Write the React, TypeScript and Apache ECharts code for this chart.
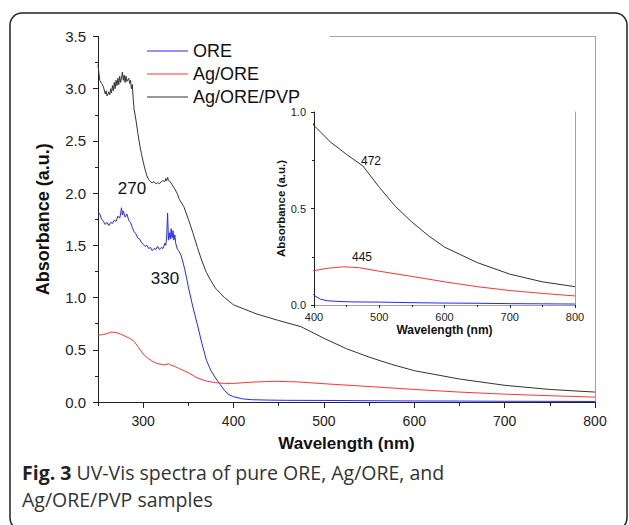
import React, { useEffect, useRef } from "react";
import * as echarts from "echarts";

// ---- data ----
const oreWl = [250, 252, 254, 256, 258, 260, 262, 264, 266, 268, 270, 272, 274, 275, 276, 277, 278, 280, 282, 284, 286, 288, 290, 292, 294, 296, 298, 300, 302, 304, 306, 308, 310, 312, 314, 316, 318, 320, 322, 324, 325, 326, 327, 328, 329, 330, 331, 332, 333, 334, 335, 336, 338, 340, 342, 344, 346, 348, 350, 355, 360, 365, 370, 375, 380, 385, 390, 395, 400, 410, 420, 440, 460, 500, 550, 600, 650, 700, 750, 800];
const oreAbs = [1.82, 1.8, 1.75, 1.73, 1.7, 1.72, 1.69, 1.72, 1.71, 1.74, 1.73, 1.78, 1.76, 1.8, 1.86, 1.79, 1.83, 1.77, 1.8, 1.74, 1.72, 1.67, 1.63, 1.61, 1.57, 1.56, 1.53, 1.51, 1.49, 1.5, 1.47, 1.48, 1.45, 1.47, 1.46, 1.49, 1.46, 1.48, 1.47, 1.52, 1.5, 1.58, 1.81, 1.55, 1.62, 1.56, 1.66, 1.57, 1.64, 1.55, 1.6, 1.52, 1.46, 1.44, 1.4, 1.34, 1.27, 1.19, 1.1, 0.91, 0.74, 0.56, 0.4, 0.3, 0.23, 0.17, 0.11, 0.07, 0.05, 0.03, 0.022, 0.018, 0.016, 0.015, 0.012, 0.01, 0.009, 0.007, 0.006, 0.005];

const agWl = [250, 255, 260, 265, 270, 275, 280, 285, 290, 295, 300, 305, 310, 315, 320, 325, 328, 330, 335, 340, 345, 350, 360, 370, 380, 390, 400, 420, 445, 470, 500, 550, 600, 650, 700, 750, 800];
const agAbs = [0.64, 0.645, 0.655, 0.67, 0.665, 0.65, 0.63, 0.61, 0.58, 0.52, 0.46, 0.42, 0.39, 0.37, 0.36, 0.355, 0.368, 0.355, 0.34, 0.32, 0.3, 0.28, 0.23, 0.2, 0.185, 0.178, 0.178, 0.19, 0.198, 0.193, 0.175, 0.148, 0.12, 0.095, 0.075, 0.06, 0.047];

const pvpWl = [250, 251, 252, 254, 256, 258, 259, 260, 262, 263, 264, 265, 266, 267, 268, 269, 270, 271, 272, 273, 274, 275, 276, 277, 278, 279, 280, 281, 282, 284, 285, 286, 287, 288, 289, 290, 292, 294, 296, 298, 300, 302, 304, 306, 308, 310, 312, 314, 316, 318, 320, 322, 324, 325, 326, 327, 328, 330, 332, 335, 338, 340, 345, 350, 355, 360, 365, 370, 375, 380, 390, 400, 425, 450, 475, 500, 525, 550, 575, 600, 650, 700, 750, 800];
const pvpAbs = [3.23, 3.15, 3.08, 3.05, 3.02, 2.95, 2.98, 2.93, 2.97, 2.94, 3.0, 2.96, 3.03, 2.98, 3.06, 3.0, 3.08, 3.03, 3.1, 3.04, 3.12, 3.06, 3.1, 3.16, 3.08, 3.13, 3.06, 3.12, 3.07, 3.1, 3.05, 3.08, 3.0, 3.04, 2.9, 2.8, 2.7, 2.58, 2.47, 2.38, 2.3, 2.23, 2.17, 2.13, 2.11, 2.1, 2.11, 2.09, 2.1, 2.09, 2.11, 2.12, 2.11, 2.14, 2.12, 2.15, 2.12, 2.11, 2.08, 2.04, 1.99, 1.94, 1.87, 1.75, 1.62, 1.48, 1.35, 1.24, 1.16, 1.09, 1.0, 0.93, 0.845, 0.78, 0.72, 0.61, 0.51, 0.43, 0.36, 0.3, 0.22, 0.16, 0.12, 0.095];

const seriesNames = ["ORE", "Ag/ORE", "Ag/ORE/PVP"];
const mainXLabels = [300, 400, 500, 600, 700, 800];
const mainXMinor = [250, 350, 450, 550, 650, 750];

const BLUE = "#2626ff";
const RED = "#ff3333";
const BLACK = "#333333";
const FONT = "'Liberation Sans', Arial, sans-serif";
const CAP_FONT = "'Open Sans', sans-serif";

const pairs = (w: number[], a: number[]) => w.map((x, i) => [x, a[i]]);

export default function App() {
  const ref = useRef<HTMLDivElement>(null);
  useEffect(() => {
    if (!ref.current) return;
    const chart = echarts.init(ref.current, undefined, { renderer: "svg" });
    const colors = [BLUE, RED, BLACK];
    const datasets = [pairs(oreWl, oreAbs), pairs(agWl, agAbs), pairs(pvpWl, pvpAbs)];
    const axisLine = { show: true, lineStyle: { color: "#222", width: 1 } };
    const grayLine = { show: true, lineStyle: { color: "#a0a0a0", width: 1 } };

    const series: any[] = [];
    datasets.forEach((d, i) => {
      series.push({
        type: "line",
        name: seriesNames[i],
        xAxisIndex: 0,
        yAxisIndex: 0,
        data: d,
        symbol: "none",
        lineStyle: { color: colors[i], width: 1 },
        itemStyle: { color: colors[i] },
      });
    });
    datasets.forEach((d, i) => {
      series.push({
        type: "line",
        name: seriesNames[i],
        xAxisIndex: 2,
        yAxisIndex: 2,
        data: d,
        symbol: "none",
        clip: true,
        lineStyle: { color: colors[i], width: 1 },
        itemStyle: { color: colors[i] },
      });
    });

    chart.setOption({
      animation: false,
      backgroundColor: "#fff",
      textStyle: { fontFamily: FONT },
      grid: [
        { left: 98, top: 36.5, width: 497, height: 365.5 },
        { left: 314, top: 112, width: 261, height: 193 },
      ],
      legend: {
        data: seriesNames.map((n) => ({ name: n, icon: "rect" })),
        orient: "vertical",
        left: 142,
        top: 36,
        itemWidth: 41,
        itemHeight: 1.2,
        itemGap: 3,
        textStyle: { fontSize: 18, lineHeight: 20, color: "#111", fontFamily: FONT },
      },
      xAxis: [
        {
          type: "value",
          gridIndex: 0,
          min: 250,
          max: 800,
          position: "bottom",
          axisLine,
          axisTick: { show: true, length: 6, customValues: mainXLabels, lineStyle: { color: "#222" } },
          axisLabel: { customValues: mainXLabels, fontSize: 14, color: "#222", margin: 12, fontFamily: FONT },
          splitLine: { show: false },
          name: "Wavelength (nm)",
          nameLocation: "middle",
          nameGap: 33,
          nameTextStyle: { fontSize: 17, fontWeight: "bold", color: "#111", fontFamily: FONT },
        },
        {
          type: "value",
          gridIndex: 0,
          min: 250,
          max: 800,
          position: "bottom",
          axisLine: { show: false },
          axisTick: { show: true, length: 4, customValues: mainXMinor, lineStyle: { color: "#222" } },
          axisLabel: { show: false },
          splitLine: { show: false },
        },
        {
          type: "value",
          gridIndex: 1,
          min: 400,
          max: 800,
          interval: 100,
          position: "bottom",
          axisLine,
          axisTick: { show: true, length: 3, lineStyle: { color: "#222" } },
          minorTick: { show: true, splitNumber: 2, length: 2, lineStyle: { color: "#222" } },
          axisLabel: { fontSize: 11, color: "#222", margin: 6, fontFamily: FONT },
          splitLine: { show: false },
          name: "Wavelength (nm)",
          nameLocation: "middle",
          nameGap: 19,
          nameTextStyle: { fontSize: 12, fontWeight: "bold", color: "#111", fontFamily: FONT },
        },
        {
          type: "value",
          gridIndex: 1,
          min: 400,
          max: 800,
          position: "top",
          axisLine: grayLine,
          axisTick: { show: false },
          axisLabel: { show: false },
          splitLine: { show: false },
        },
      ],
      yAxis: [
        {
          type: "value",
          gridIndex: 0,
          min: 0,
          max: 3.5,
          interval: 0.5,
          position: "left",
          axisLine,
          axisTick: { show: true, length: 5, lineStyle: { color: "#222" } },
          minorTick: { show: true, splitNumber: 2, length: 3, lineStyle: { color: "#222" } },
          axisLabel: { fontSize: 15, color: "#222", margin: 12, formatter: (v: number) => v.toFixed(1), fontFamily: FONT },
          splitLine: { show: false },
          name: "Absorbance (a.u.)",
          nameLocation: "middle",
          nameGap: 46,
          nameTextStyle: { fontSize: 18, fontWeight: "bold", color: "#111", fontFamily: FONT },
        },
        {
          type: "value",
          gridIndex: 0,
          min: 0,
          max: 3.5,
          position: "right",
          axisLine: grayLine,
          axisTick: { show: false },
          axisLabel: { show: false },
          splitLine: { show: false },
        },
        {
          type: "value",
          gridIndex: 1,
          min: 0,
          max: 1,
          interval: 0.5,
          position: "left",
          axisLine,
          axisTick: { show: true, length: 3, lineStyle: { color: "#222" } },
          minorTick: { show: true, splitNumber: 2, length: 2, lineStyle: { color: "#222" } },
          axisLabel: { fontSize: 11, color: "#222", margin: 8, formatter: (v: number) => v.toFixed(1), fontFamily: FONT },
          splitLine: { show: false },
          name: "Absorbance (a.u.)",
          nameLocation: "middle",
          nameGap: 25,
          nameTextStyle: { fontSize: 11.5, fontWeight: "bold", color: "#111", fontFamily: FONT },
        },
        {
          type: "value",
          gridIndex: 1,
          min: 0,
          max: 1,
          position: "right",
          axisLine: grayLine,
          axisTick: { show: false },
          axisLabel: { show: false },
          splitLine: { show: false },
        },
      ],
      graphic: [
        {
          type: "rect",
          shape: { x: 10, y: 13, width: 617, height: 517, r: 12 },
          style: { fill: "none", stroke: "#222", lineWidth: 1.5 },
          silent: true,
        },
        {
          type: "line",
          shape: { x1: 330, y1: 36.5, x2: 595, y2: 36.5 },
          style: { stroke: "#a0a0a0", lineWidth: 1 },
          silent: true,
        },
        { type: "text", x: 132, y: 188, style: { text: "270", fontSize: 17, fill: "#111", align: "center", verticalAlign: "middle", fontFamily: FONT } },
        { type: "text", x: 165, y: 278, style: { text: "330", fontSize: 17, fill: "#111", align: "center", verticalAlign: "middle", fontFamily: FONT } },
        { type: "text", x: 371, y: 161, style: { text: "472", fontSize: 12, fill: "#111", align: "center", verticalAlign: "middle", fontFamily: FONT } },
        { type: "text", x: 362, y: 257, style: { text: "445", fontSize: 12, fill: "#111", align: "center", verticalAlign: "middle", fontFamily: FONT } },
        {
          type: "text",
          x: 22,
          y: 472,
          style: {
            text: "{b|Fig. 3} UV-Vis spectra of pure ORE, Ag/ORE, and",
            fontSize: 19.5,
            fill: "#333",
            fontFamily: CAP_FONT,
            verticalAlign: "middle",
            rich: { b: { fontWeight: "bold", fontSize: 19.5, fill: "#222", fontFamily: CAP_FONT } },
          },
        },
        {
          type: "text",
          x: 22,
          y: 499,
          style: {
            text: "Ag/ORE/PVP samples",
            fontSize: 19.5,
            fill: "#333",
            fontFamily: CAP_FONT,
            verticalAlign: "middle",
          },
        },
      ],
      series,
    });
    return () => chart.dispose();
  }, []);
  return <div ref={ref} style={{ position: "fixed", left: 0, top: 0, width: 629, height: 525 }} />;
}
